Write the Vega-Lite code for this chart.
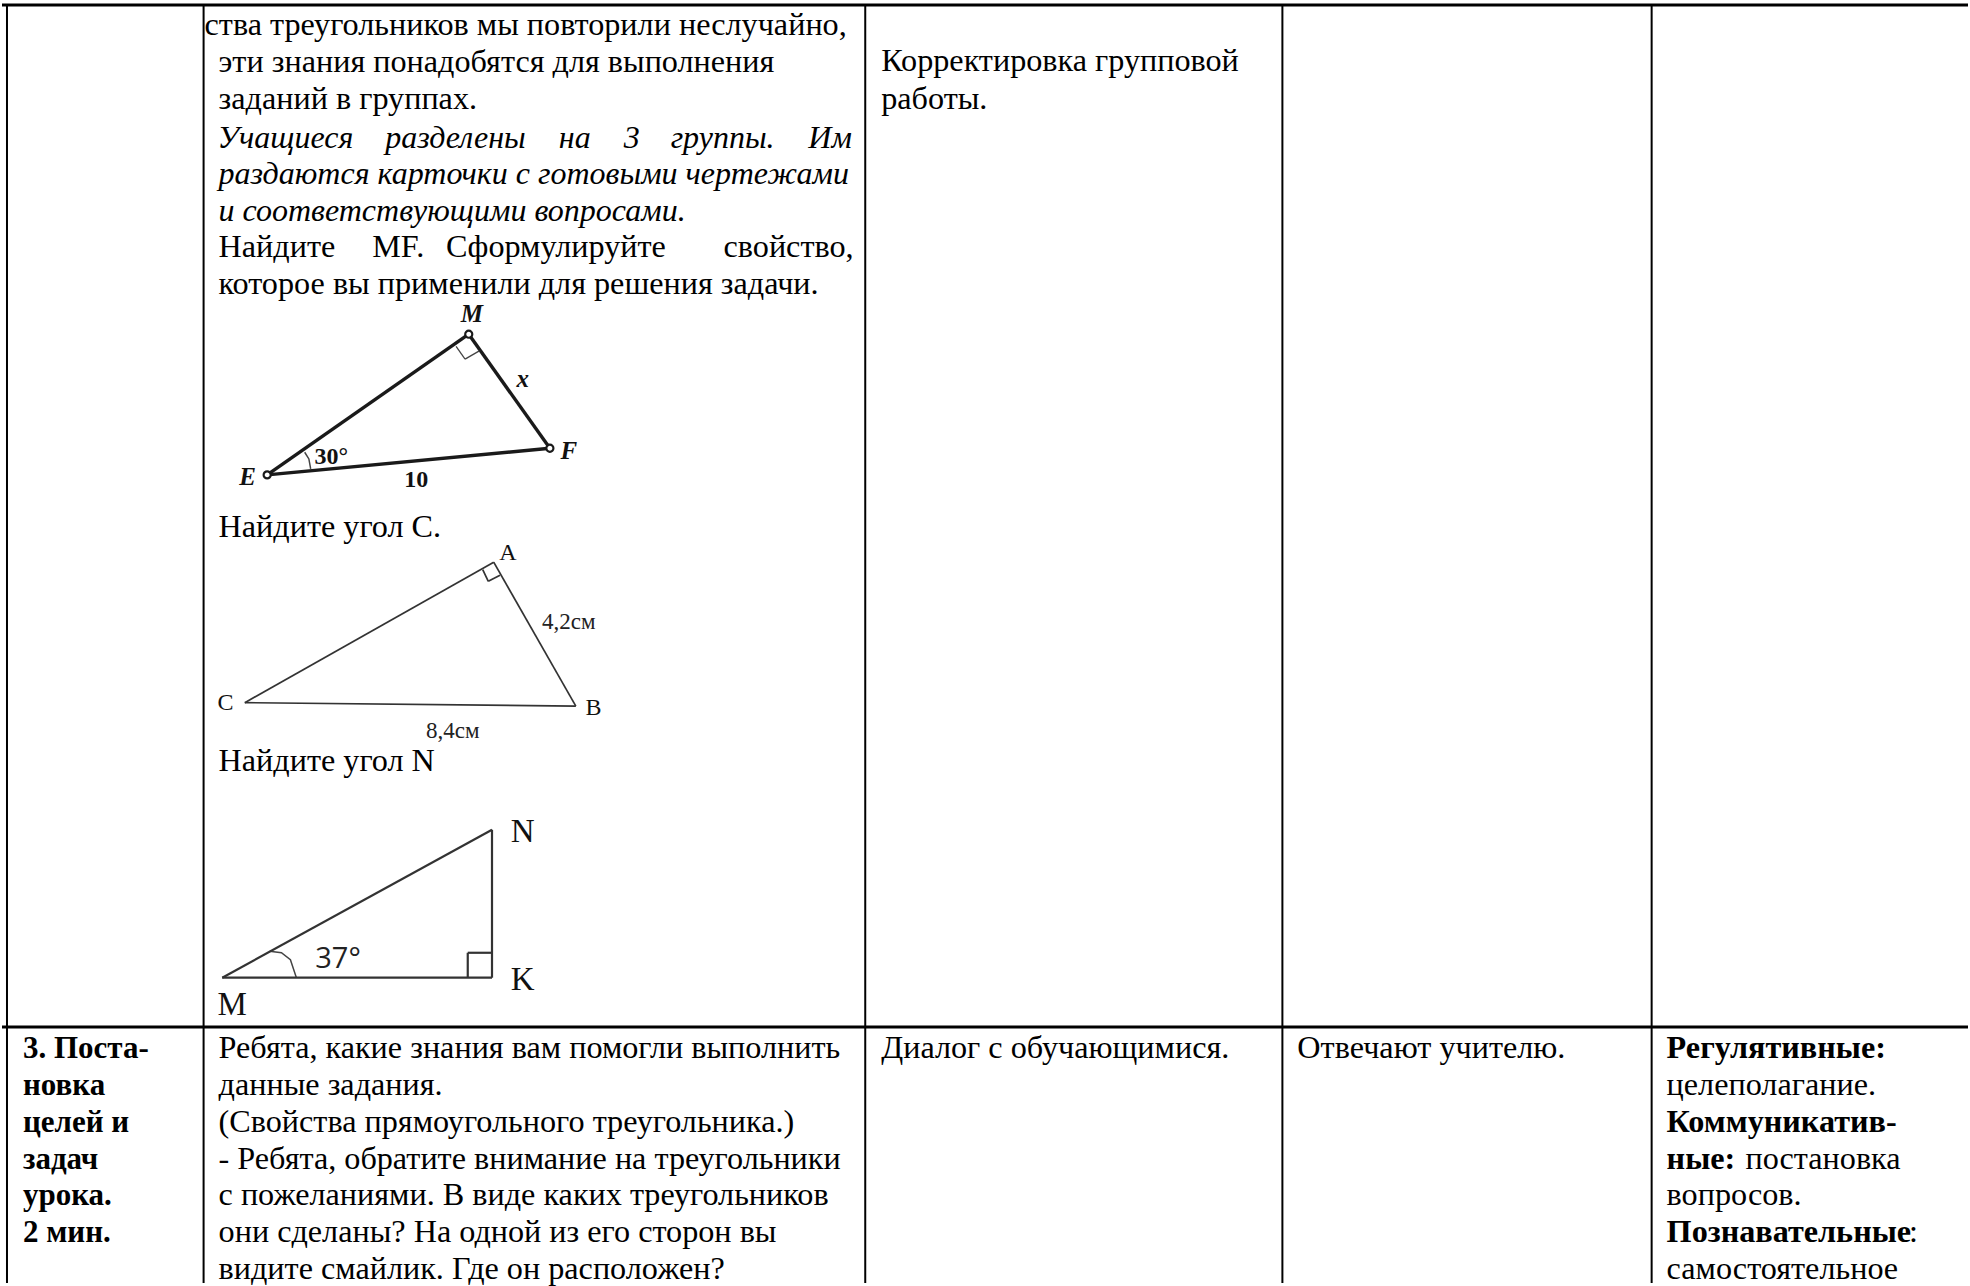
{
"$schema":"https://vega.github.io/schema/vega-lite/v6.json",
"autosize":{"type":"fit","contains":"padding"},"padding":0,"width":1970,"height":1286,"background":"white",
"config":{"view":{"stroke":null}},
"datasets":{
"grid":[{"x":0,"y":5,"x2":1970,"y2":5},{"x":0,"y":1029.5,"x2":1970,"y2":1029.5}],
"vert":[{"x":5,"y":5,"x2":5,"y2":1286},{"x":202,"y":5,"x2":202,"y2":1286},{"x":865,"y":5,"x2":865,"y2":1286},{"x":1283,"y":5,"x2":1283,"y2":1286},{"x":1653,"y":5,"x2":1653,"y2":1286}],
"tri1":[{"x":265.7,"y":476,"x2":467.7,"y2":335},{"x":467.7,"y":335,"x2":549,"y2":449.3},{"x":265.7,"y":476,"x2":549,"y2":449.3}],
"tri1thin":[{"x":455,"y":347.3,"x2":464,"y2":360},{"x":464,"y":360,"x2":478.3,"y2":351.7}],
"tri1pts":[{"x":265.7,"y":476},{"x":467.7,"y":335},{"x":549,"y":449.3}],
"arcs":[{"id":"a","o":1,"x":303.3,"y":453.3},{"id":"a","o":2,"x":307.5,"y":460},{"id":"a","o":3,"x":309.3,"y":470},{"id":"b","o":1,"x":268.3,"y":953.5},{"id":"b","o":2,"x":280,"y":955},{"id":"b","o":3,"x":289,"y":962},{"id":"b","o":4,"x":295,"y":980}],
"tri2":[{"x":492.7,"y":563.5,"x2":243.3,"y2":704.3},{"x":492.7,"y":563.5,"x2":575,"y2":707.7},{"x":243.3,"y":704.3,"x2":575,"y2":707.7},{"x":481.7,"y":571,"x2":487.3,"y2":582.7},{"x":487.3,"y":582.7,"x2":499,"y2":576.7}],
"tri3":[{"x":491,"y":831.7,"x2":220.7,"y2":980},{"x":491,"y":831.7,"x2":491,"y2":980},{"x":220.7,"y":980,"x2":491,"y2":980},{"x":466.7,"y":955,"x2":491,"y2":955},{"x":466.7,"y":955,"x2":466.7,"y2":980}],
"body":[
{"x":203,"y":35.5,"t":"ства треугольников мы повторили неслучайно,"},
{"x":217,"y":72.5,"t":"эти знания понадобятся для выполнения"},
{"x":217,"y":109.5,"t":"заданий в группах."},
{"x":217,"y":258,"t":"Найдите"},{"x":371,"y":258,"t":"MF."},{"x":445,"y":258,"t":"Сформулируйте"},{"x":723,"y":258,"t":"свойство,"},
{"x":217,"y":294.5,"t":"которое вы применили для решения задачи."},
{"x":217,"y":538.2,"t":"Найдите угол С."},
{"x":217,"y":773.2,"t":"Найдите угол N"},
{"x":881,"y":71.5,"t":"Корректировка групповой"},
{"x":881,"y":109.5,"t":"работы."},
{"x":217,"y":1060.5,"t":"Ребята, какие знания вам помогли выполнить"},
{"x":217,"y":1098,"t":"данные задания."},
{"x":217,"y":1134.5,"t":"(Свойства прямоугольного треугольника.)"},
{"x":217,"y":1171.5,"t":"- Ребята, обратите внимание на треугольники"},
{"x":217,"y":1208,"t":"с пожеланиями. В виде каких треугольников"},
{"x":217,"y":1244.5,"t":"они сделаны? На одной из его сторон вы"},
{"x":217,"y":1282,"t":"видите смайлик. Где он расположен?"},
{"x":881,"y":1060.5,"t":"Диалог с обучающимися."},
{"x":1298,"y":1060.5,"t":"Отвечают учителю."},
{"x":1668,"y":1098,"t":"целеполагание."},
{"x":1747,"y":1171.5,"t":"постановка"},
{"x":1668,"y":1208,"t":"вопросов."},
{"x":1911,"y":1244.5,"t":":"},
{"x":1668,"y":1282,"t":"самостоятельное"}
],
"bold":[
{"x":1668,"y":1060.5,"t":"Регулятивные:"},{"x":1668,"y":1134.5,"t":"Коммуникатив-"},{"x":1668,"y":1171.5,"t":"ные:"},{"x":1668,"y":1244.5,"t":"Познавательные"}
],
"bold1":[
{"x":21,"y":1060.5,"t":"3. Поста-"},{"x":21,"y":1098,"t":"новка"},{"x":21,"y":1134.5,"t":"целей и"},{"x":21,"y":1171.5,"t":"задач"},{"x":21,"y":1208,"t":"урока."},{"x":21,"y":1244.5,"t":"2 мин."}
],
"ital":[
{"x":216,"y":148,"t":"Учащиеся"},{"x":384,"y":148,"t":"разделены"},{"x":558,"y":148,"t":"на"},{"x":623,"y":148,"t":"3"},{"x":670,"y":148,"t":"группы."},{"x":808,"y":148,"t":"Им"},
{"x":217,"y":184.2,"t":"раздаются карточки с готовыми чертежами"},
{"x":217,"y":221.5,"t":"и соответствующими вопросами."}
],
"lab1bi":[{"x":470.7,"y":322.5,"t":"M"},{"x":521.7,"y":387.5,"t":"x"},{"x":568,"y":460,"t":"F"},{"x":246,"y":486,"t":"E"}],
"lab1":[{"x":330,"y":465,"t":"30°"},{"x":415,"y":488,"t":"10"}],
"lab2":[{"x":507,"y":561.7,"t":"A"},{"x":224,"y":711.7,"t":"C"},{"x":592.7,"y":717,"t":"B"}],
"lab2s":[{"x":568,"y":630,"t":"4,2см"},{"x":451.7,"y":740,"t":"8,4см"}],
"lab3":[{"x":521.7,"y":844,"t":"N"},{"x":521.7,"y":992.7,"t":"K"},{"x":230.7,"y":1017,"t":"M"}],
"lab3s":[{"x":336.7,"y":970,"t":"37°"}]
},
"encoding":{
"x":{"field":"x","type":"quantitative","scale":{"domain":[0,1970],"nice":false,"zero":false},"axis":null},
"y":{"field":"y","type":"quantitative","scale":{"domain":[1286,0],"nice":false,"zero":false},"axis":null}
},
"layer":[
{"data":{"name":"grid"},"mark":{"type":"rule","color":"black","strokeWidth":3},"encoding":{"x2":{"field":"x2"},"y2":{"field":"y2"}}},
{"data":{"name":"vert"},"mark":{"type":"rule","color":"black","strokeWidth":2},"encoding":{"x2":{"field":"x2"},"y2":{"field":"y2"}}},
{"data":{"name":"tri1"},"mark":{"type":"rule","color":"#1a1a1a","strokeWidth":3.4},"encoding":{"x2":{"field":"x2"},"y2":{"field":"y2"}}},
{"data":{"name":"tri1thin"},"mark":{"type":"rule","color":"#444","strokeWidth":1.3},"encoding":{"x2":{"field":"x2"},"y2":{"field":"y2"}}},
{"data":{"name":"tri1pts"},"mark":{"type":"point","filled":true,"fill":"white","stroke":"#1a1a1a","strokeWidth":2.2,"size":50,"opacity":1}},
{"data":{"name":"arcs"},"mark":{"type":"line","color":"#444","strokeWidth":1.5},"encoding":{"detail":{"field":"id"},"order":{"field":"o"}}},
{"data":{"name":"tri2"},"mark":{"type":"rule","color":"#333","strokeWidth":1.7},"encoding":{"x2":{"field":"x2"},"y2":{"field":"y2"}}},
{"data":{"name":"tri3"},"mark":{"type":"rule","color":"#333","strokeWidth":2.2},"encoding":{"x2":{"field":"x2"},"y2":{"field":"y2"}}},
{"data":{"name":"body"},"mark":{"type":"text","font":"Liberation Serif","fontSize":32.2,"align":"left","baseline":"alphabetic","color":"black"},"encoding":{"text":{"field":"t"}}},
{"data":{"name":"bold"},"mark":{"type":"text","font":"Liberation Serif","fontSize":32.2,"fontWeight":"bold","align":"left","baseline":"alphabetic","color":"black"},"encoding":{"text":{"field":"t"}}},
{"data":{"name":"bold1"},"mark":{"type":"text","font":"Liberation Serif","fontSize":31,"fontWeight":"bold","align":"left","baseline":"alphabetic","color":"black"},"encoding":{"text":{"field":"t"}}},
{"data":{"name":"ital"},"mark":{"type":"text","font":"Liberation Serif","fontSize":32,"fontStyle":"italic","align":"left","baseline":"alphabetic","color":"black"},"encoding":{"text":{"field":"t"}}},
{"data":{"name":"lab1bi"},"mark":{"type":"text","font":"Liberation Serif","fontSize":25,"fontStyle":"italic","fontWeight":"bold","align":"center","baseline":"alphabetic","color":"#111"},"encoding":{"text":{"field":"t"}}},
{"data":{"name":"lab1"},"mark":{"type":"text","font":"Liberation Serif","fontSize":24,"fontWeight":"bold","align":"center","baseline":"alphabetic","color":"#111"},"encoding":{"text":{"field":"t"}}},
{"data":{"name":"lab2"},"mark":{"type":"text","font":"Liberation Serif","fontSize":24,"align":"center","baseline":"alphabetic","color":"#111"},"encoding":{"text":{"field":"t"}}},
{"data":{"name":"lab2s"},"mark":{"type":"text","font":"Liberation Serif","fontSize":23,"align":"center","baseline":"alphabetic","color":"#222"},"encoding":{"text":{"field":"t"}}},
{"data":{"name":"lab3"},"mark":{"type":"text","font":"Liberation Serif","fontSize":33,"align":"center","baseline":"alphabetic","color":"#111"},"encoding":{"text":{"field":"t"}}},
{"data":{"name":"lab3s"},"mark":{"type":"text","font":"Open Sans","fontSize":29,"align":"center","baseline":"alphabetic","color":"#222"},"encoding":{"text":{"field":"t"}}}
]
}
